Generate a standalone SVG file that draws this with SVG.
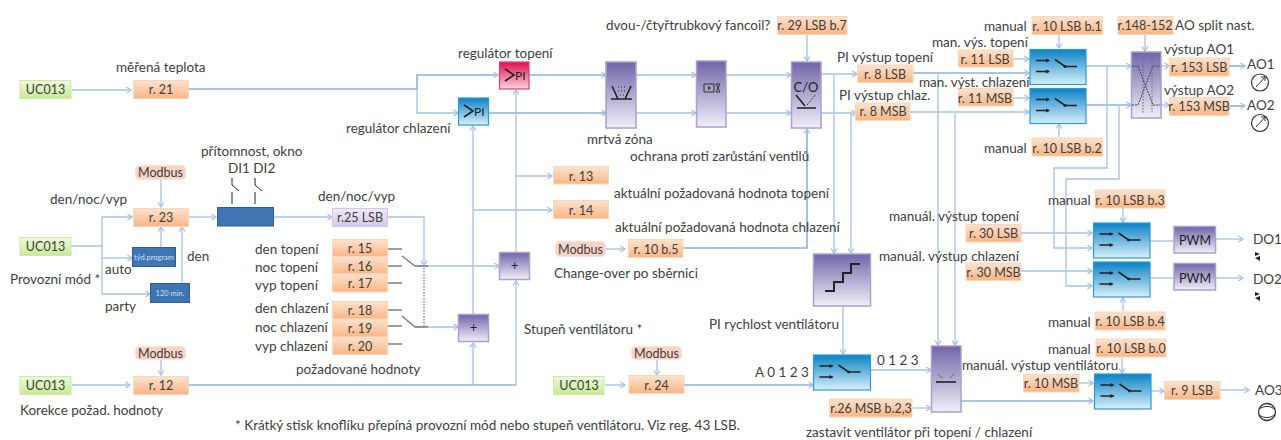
<svg xmlns="http://www.w3.org/2000/svg" xmlns:xlink="http://www.w3.org/1999/xlink" width="1281" height="440" viewBox="0 0 1281 440">
<style>
text{font-family:"Lato","Liberation Sans",sans-serif;font-size:13.5px;fill:#404040}
g>rect+text{font-size:12.5px}
.c{text-anchor:middle}
.o{fill:url(#gO);stroke:#fcd6b8;stroke-width:1}
.g{fill:url(#gG);stroke:#cfe8a5;stroke-width:1}
.m{fill:#f9d3c5;stroke:#fbe3da;stroke-width:1}
.p{fill:url(#gP);stroke:#a99fd0;stroke-width:1.5}
.b{fill:url(#gB);stroke:#2a9ad8;stroke-width:1.2}
.d{fill:#3f75b2;stroke:#2f5f98;stroke-width:1}
.w{fill:#cfe0f2;font-size:7.5px}
#conn path{fill:none;stroke:#a6c2e3;stroke-width:1.3}
#conn path.a{marker-end:url(#ah)}
#conn path.t{stroke:#8fb0da;stroke-width:1.6}
#conn path.s{stroke:#808080;stroke-width:1.5}
.k{fill:none;stroke:#222;stroke-width:1.6}
</style>
<defs>
<linearGradient id="gO" x1="0" y1="0" x2="0" y2="1"><stop offset="0" stop-color="#fde3cf"/><stop offset="1" stop-color="#fbb583"/></linearGradient>
<linearGradient id="gG" x1="0" y1="0" x2="0" y2="1"><stop offset="0" stop-color="#eef9db"/><stop offset="1" stop-color="#c8ea96"/></linearGradient>
<linearGradient id="gP" x1="0" y1="0" x2="0" y2="1"><stop offset="0" stop-color="#7264a9"/><stop offset="1" stop-color="#f1eff8"/></linearGradient>
<linearGradient id="gB" x1="0" y1="0" x2="0" y2="1"><stop offset="0" stop-color="#0b82c6"/><stop offset="1" stop-color="#d8eff9"/></linearGradient>
<linearGradient id="gR" x1="0" y1="0" x2="0" y2="1"><stop offset="0" stop-color="#e0104e"/><stop offset="1" stop-color="#fbd3df"/></linearGradient>
<linearGradient id="gL" x1="0" y1="0" x2="0" y2="1"><stop offset="0" stop-color="#efeaf7"/><stop offset="1" stop-color="#d5c8ea"/></linearGradient>
<marker id="ah" markerWidth="9" markerHeight="9" refX="6.5" refY="4" orient="auto" markerUnits="userSpaceOnUse"><path d="M2 1 L6.5 4 L2 7" fill="none" stroke="#a6c2e3" stroke-width="1.3"/></marker>
<g id="sw"><path d="M6 11H19M6 22H19" stroke="#222" stroke-width="1.6" fill="none"/><path d="M16 9L20 11L16 13ZM16 20L20 22L16 24Z" fill="#222"/><path d="M25 10L35 17H47" class="k"/><circle cx="35" cy="17" r="1.4" fill="#222"/></g>
</defs>
<rect width="1281" height="440" fill="#fff"/>

<g id="conn">
<path class="a" d="M72 90H131"/>
<path class="t" d="M188 89H417"/>
<path class="a t" d="M417 89V75H498"/>
<path class="a" d="M417 89V113H458"/>
<path class="a t" d="M529 75H606"/><path class="a" d="M636 75H696"/><path class="a" d="M726 75H791"/><path class="a" d="M821 74H857"/>
<path class="a t" d="M489 113H606"/><path class="a" d="M636 113H696"/><path class="a" d="M726 113H791"/><path class="a" d="M821 113H856"/>
<path class="a" d="M807 34V61"/>
<path class="a" d="M516 252V90"/><path class="a" d="M473 314V126"/>
<path class="t" d="M188 385H516"/>
<path class="a" d="M473 385V343"/><path class="a" d="M516 385V281"/>
<path class="a" d="M516 176H552"/><path class="a" d="M473 210H552"/>
<path class="a" d="M606 249H625"/>
<path class="a t" d="M683 248H807V129"/>
<path class="a" d="M834 75V253"/><path class="a" d="M851 113V253"/>
<path class="a" d="M843 306V354"/>
<path class="a" d="M605 385H625"/><path class="a" d="M657 360V375"/>
<path class="a t" d="M684 385H813"/>
<path class="a" d="M912 408H931"/><path class="a" d="M870 370H931"/>
<path class="a t" d="M961 401H1093"/>
<path class="a" d="M938 74V345"/><path class="a" d="M955 113V345"/>
<path class="a" d="M1059 35V48"/><path class="a" d="M1013 59H1029"/><path class="a t" d="M913 73H1029"/>
<path class="a" d="M1013 98H1029"/><path class="a" d="M910 112H1029"/><path class="a" d="M1059 137V124"/>
<path class="a" d="M1086 66H1131"/><path class="a t" d="M1086 105H1131"/>
<path class="a" d="M1145 35V51"/>
<path class="a" d="M1161 66H1169"/><path class="a" d="M1161 105H1169"/>
<path class="a t" d="M1229 66H1245"/><path class="a t" d="M1229 106H1245"/>
<path class="a" d="M1107 66V168H1054V248H1092"/>
<path class="a" d="M1119 105V179H1066V286H1092"/>
<path class="a" d="M1123 208V222"/><path class="a" d="M1123 311V298"/>
<path class="a" d="M1021 233H1092"/><path class="a" d="M1021 271H1092"/>
<path d="M1150 241H1174"/><path d="M1150 278H1174"/>
<path class="a" d="M1216 239H1243"/><path class="a" d="M1216 278H1243"/>
<path class="a" d="M1122 357V373"/><path class="a" d="M1079 383H1093"/>
<path class="a" d="M1151 391H1164"/><path class="a" d="M1220 390H1249"/>
<path class="a" d="M71 246H102V217H132"/><path d="M102 246V294"/>
<path class="a" d="M102 258H132"/><path class="a" d="M102 294H150"/>
<path class="a" d="M161 180V207"/><path class="a" d="M161 247V227"/><path class="a" d="M182 283V227"/>
<path class="a" d="M188 217H216"/><path class="a" d="M273 217H332"/>
<path class="a" d="M388 217H424V265"/>
<path d="M424 265V327" stroke-dasharray="1.5 1.5" style="stroke:#777"/>
<path class="a" d="M415 266H499"/>
<path class="a" d="M415 327H458"/>
<path class="s" d="M388 249H402M388 266H402M388 283H402M388 310H402M388 326H402M388 344H402"/>
<path class="s" d="M402 256L415 266H428M402 316L415 327H428"/>
<path class="a" d="M72 385H130"/><path class="a" d="M161 360V375"/>
</g>

<g id="uc1"><rect class="g" x="20" y="80.500" width="51" height="18"/><text class="c" x="45.500" y="94">UC013</text></g>
<g id="r21"><rect class="o" x="133.500" y="80.500" width="55" height="18"/><text class="c" x="161" y="94">r. 21</text></g>
<g id="mb1"><rect class="m" x="135.500" y="165.500" width="50" height="14" rx="4"/><text class="c" x="160.500" y="177">Modbus</text></g>
<g id="r23"><rect class="o" x="133.500" y="208.500" width="55" height="18"/><text class="c" x="161" y="222">r. 23</text></g>
<g id="prit"><rect class="d" x="217.500" y="207.500" width="56" height="18.500"/>
<path d="M232 178V185L239 191M255 178V185L262 191M232 192V204M255 192V204" fill="none" stroke="#222" stroke-width="1"/></g>
<g id="r25"><rect x="332.500" y="208.500" width="55" height="18" fill="url(#gL)" stroke="#d3c6e8"/><text class="c" x="360" y="222">r.25 LSB</text></g>
<g id="uc2"><rect class="g" x="20" y="237.500" width="51" height="18"/><text class="c" x="45.500" y="251">UC013</text></g>
<g id="tyd"><rect class="d" x="132.500" y="247.500" width="43" height="19"/><text class="w c" x="154" y="260">týd.program</text></g>
<g id="min"><rect class="d" x="150.500" y="283.500" width="39" height="19"/><text class="w c" x="170" y="296">120 min.</text></g>
<g id="r15"><rect class="o" x="332.500" y="239.500" width="55" height="17"/><text class="c" x="360" y="253">r. 15</text></g>
<g id="r16"><rect class="o" x="332.500" y="256.500" width="55" height="17.500"/><text class="c" x="360" y="271">r. 16</text></g>
<g id="r17"><rect class="o" x="332.500" y="274" width="55" height="18"/><text class="c" x="360" y="288">r. 17</text></g>
<g id="r18"><rect class="o" x="332.500" y="301.500" width="55" height="17.500"/><text class="c" x="360" y="315">r. 18</text></g>
<g id="r19"><rect class="o" x="332.500" y="319" width="55" height="18"/><text class="c" x="360" y="333">r. 19</text></g>
<g id="r20"><rect class="o" x="332.500" y="337" width="55" height="17.500"/><text class="c" x="360" y="351">r. 20</text></g>
<g id="mb2"><rect class="m" x="135.500" y="346.500" width="50" height="13" rx="4"/><text class="c" x="160.500" y="358">Modbus</text></g>
<g id="r12"><rect class="o" x="133.500" y="376.500" width="55" height="18"/><text class="c" x="161" y="390">r. 12</text></g>
<g id="uc4"><rect class="g" x="20" y="376.500" width="51" height="18"/><text class="c" x="45.500" y="390">UC013</text></g>

<g id="piT"><rect x="499.500" y="62" width="29.500" height="27" fill="url(#gR)" stroke="#e0406e" stroke-width="1.2"/><path d="M505 69L514 75L505 81" class="k"/><text x="515" y="80" style="font-size:12px;fill:#222">PI</text></g>
<g id="piC"><rect class="b" x="458.500" y="98" width="30" height="27"/><path d="M464 105L473 111L464 117" class="k"/><text x="474" y="116" style="font-size:12px;fill:#222">PI</text></g>
<g id="mz"><rect class="p" x="606" y="62" width="30" height="66"/><path d="M612 86L618 99H625L631 86M611 99H632" class="k"/><path d="M618 87h1M621 87h1M624 87h1M618 91h1M621 91h1M624 91h1M620 95h1M623 95h1" stroke="#222" fill="none"/></g>
<g id="och"><rect class="p" x="696.500" y="61" width="29.500" height="66"/><path d="M704 84H714V92H704ZM716 84H720L716 92H720Z" fill="none" stroke="#333"/><path d="M708 86L711 88L708 90Z" fill="#333"/></g>
<g id="co"><rect class="p" x="791.500" y="62" width="29.500" height="66"/><text class="c" x="806" y="92" style="font-size:13px;fill:#222">C/O</text><path d="M796 95L805 106M797 108H816" class="k"/><path d="M807 105L816 94" fill="none" stroke="#333" stroke-dasharray="2 1.500"/></g>
<g id="r29"><rect class="o" x="777.500" y="16.500" width="69.500" height="18"/><text class="c" x="812" y="30">r. 29 LSB b.7</text></g>
<g id="r8l"><rect class="o" x="857.500" y="65" width="55.500" height="17.500"/><text class="c" x="885" y="79">r. 8 LSB</text></g>
<g id="r8m"><rect class="o" x="855.500" y="103" width="54.500" height="17.500"/><text class="c" x="883" y="116">r. 8 MSB</text></g>
<g id="r13"><rect class="o" x="553.500" y="166.500" width="55" height="17.500"/><text class="c" x="581" y="181">r. 13</text></g>
<g id="r14"><rect class="o" x="553.500" y="200.500" width="55" height="18"/><text class="c" x="581" y="215">r. 14</text></g>
<g id="mb3"><rect class="m" x="555.500" y="241.500" width="50" height="15" rx="4"/><text class="c" x="580.500" y="254">Modbus</text></g>
<g id="r10b5"><rect class="o" x="628.500" y="239.500" width="54.500" height="18"/><text class="c" x="656" y="254">r. 10 b.5</text></g>
<g id="plus1"><rect class="p" x="499.500" y="252.500" width="30" height="27"/><text class="c" x="514.500" y="270" style="fill:#222">+</text></g>
<g id="plus2"><rect class="p" x="458.500" y="314.500" width="30" height="27"/><text class="c" x="473.500" y="332" style="fill:#222">+</text></g>
<g id="stair"><rect class="p" x="813.500" y="254" width="57" height="52"/><path d="M825 291H834V282H843V273H851V264H860" fill="none" stroke="#222" stroke-width="2"/></g>
<g id="swF"><rect class="b" x="813.500" y="355" width="57" height="35"/><use xlink:href="#sw" href="#sw" x="813.500" y="355"/></g>
<g id="uc3"><rect class="g" x="553.500" y="376.500" width="50.500" height="18"/><text class="c" x="579" y="390">UC013</text></g>
<g id="mb4"><rect class="m" x="631.500" y="346.500" width="50" height="13" rx="4"/><text class="c" x="656.500" y="358">Modbus</text></g>
<g id="r24"><rect class="o" x="629" y="375.500" width="55" height="18"/><text class="c" x="656.500" y="390">r. 24</text></g>
<g id="r26"><rect class="o" x="829.500" y="399" width="82.500" height="18"/><text class="c" x="871" y="413">r.26 MSB b.2,3</text></g>
<g id="stop"><rect class="p" x="931.500" y="346" width="29.500" height="66"/><path d="M936 382H956" stroke="#222" stroke-width="1.6" fill="none"/><path d="M937 374L943 378M955 374L949 378" fill="none" stroke="#777"/></g>

<g id="sw1"><rect class="b" x="1030" y="49.500" width="56" height="35"/><use xlink:href="#sw" href="#sw" x="1030" y="49.500"/></g>
<g id="sw2"><rect class="b" x="1030" y="88.500" width="56" height="35"/><use xlink:href="#sw" href="#sw" x="1030" y="88.500"/></g>
<g id="r10b1"><rect class="o" x="1032" y="16.500" width="70.500" height="18"/><text class="c" x="1067" y="31">r. 10 LSB b.1</text></g>
<g id="r11l"><rect class="o" x="958.500" y="50" width="54.500" height="17"/><text class="c" x="985" y="64">r. 11 LSB</text></g>
<g id="r11m"><rect class="o" x="958.500" y="88.500" width="54.500" height="17.500"/><text class="c" x="985" y="103">r. 11 MSB</text></g>
<g id="r10b2"><rect class="o" x="1032" y="138" width="70.500" height="18"/><text class="c" x="1067" y="153">r. 10 LSB b.2</text></g>
<g id="r148"><rect class="o" x="1118" y="16.500" width="55" height="18"/><text class="c" x="1145" y="30">r.148-152</text></g>
<g id="split"><rect class="p" x="1131.500" y="52" width="29.500" height="66"/><path d="M1132 66H1138L1153 105H1160M1132 105H1138L1153 66H1160" fill="none" stroke="#444" stroke-dasharray="2 1"/><path d="M1143 57V114M1152 57V114" fill="none" stroke="#666" stroke-dasharray="1.500 1.500"/></g>
<g id="r153l"><rect class="o" x="1169.500" y="58" width="59.500" height="18"/><text class="c" x="1199" y="72">r. 153 LSB</text></g>
<g id="r153m"><rect class="o" x="1169.500" y="97.500" width="59.500" height="18"/><text class="c" x="1199" y="111">r. 153 MSB</text></g>
<g id="ao1"><text x="1247" y="69">AO1</text><circle cx="1260" cy="82.500" r="8.500" fill="#fff" stroke="#333" stroke-width="1.2"/><path d="M1256 87L1265 77M1261 77H1265V81" fill="none" stroke="#333"/></g>
<g id="ao2"><text x="1247" y="110">AO2</text><circle cx="1260" cy="123" r="8.500" fill="#fff" stroke="#333" stroke-width="1.2"/><path d="M1256 127L1265 117M1261 117H1265V121" fill="none" stroke="#333"/></g>

<g id="r10b3"><rect class="o" x="1095" y="190" width="70" height="18"/><text class="c" x="1130" y="205">r. 10 LSB b.3</text></g>
<g id="sw3"><rect class="b" x="1093.500" y="223" width="56.500" height="35"/><use xlink:href="#sw" href="#sw" x="1093.500" y="223"/></g>
<g id="sw4"><rect class="b" x="1093.500" y="262" width="56.500" height="35"/><use xlink:href="#sw" href="#sw" x="1093.500" y="262"/></g>
<g id="r30l"><rect class="o" x="966" y="224.500" width="55" height="17.500"/><text class="c" x="993.500" y="238">r. 30 LSB</text></g>
<g id="r30m"><rect class="o" x="966" y="263" width="55" height="17.500"/><text class="c" x="993.500" y="277">r. 30 MSB</text></g>
<g id="pwm1"><rect class="p" x="1174" y="226.500" width="41.500" height="26.500"/><text class="c" x="1195" y="245" style="fill:#222">PWM</text></g>
<g id="pwm2"><rect class="p" x="1174" y="263.500" width="41.500" height="26.500"/><text class="c" x="1195" y="283" style="fill:#222">PWM</text></g>
<g id="do1"><text x="1253" y="244">DO1</text><path d="M1255 252L1260 254L1255 256ZM1255 258L1260 256V261Z" fill="#222"/></g>
<g id="do2"><text x="1253" y="284">DO2</text><path d="M1255 292L1260 294L1255 296ZM1255 298L1260 296V301Z" fill="#222"/></g>
<g id="r10b4"><rect class="o" x="1095" y="312" width="70" height="18"/><text class="c" x="1130" y="326">r. 10 LSB b.4</text></g>
<g id="r10b0"><rect class="o" x="1096" y="339" width="70" height="18"/><text class="c" x="1131" y="353">r. 10 LSB b.0</text></g>
<g id="sw5"><rect class="b" x="1094.500" y="374" width="56.500" height="35"/><use xlink:href="#sw" href="#sw" x="1094.500" y="374"/></g>
<g id="r10m"><rect class="o" x="1023.500" y="374.500" width="55.500" height="17.500"/><text class="c" x="1051" y="388">r. 10 MSB</text></g>
<g id="r9"><rect class="o" x="1164.500" y="381.500" width="55.500" height="18"/><text class="c" x="1192" y="395">r. 9 LSB</text></g>
<g id="ao3"><text x="1255" y="395">AO3</text><circle cx="1267" cy="412" r="8.500" fill="#fff" stroke="#333" stroke-width="1.3"/><path d="M1259 409C1265 405 1272 406 1275 410M1259 415C1265 419 1272 418 1275 414" fill="none" stroke="#333"/></g>

<g id="labels">
<text x="116" y="72">měřená teplota</text>
<text x="458" y="58">regulátor topení</text>
<text x="346" y="133">regulátor chlazení</text>
<text x="606" y="30">dvou-/čtyřtrubkový fancoil?</text>
<text x="837" y="62">PI výstup topení</text>
<text x="839" y="100">PI výstup chlaz.</text>
<text x="984" y="31">manual</text>
<text x="932" y="47">man. výs. topení</text>
<text x="919" y="87">man. výst. chlazení</text>
<text x="984" y="153">manual</text>
<text x="1175" y="30">AO split nast.</text>
<text x="1164" y="54">výstup AO1</text>
<text x="1164" y="95">výstup AO2</text>
<text x="587" y="144">mrtvá zóna</text>
<text x="630" y="161">ochrana proti zarůstání ventilů</text>
<text x="614" y="198">aktuální požadovaná hodnota topení</text>
<text x="615" y="232">aktuální požadovaná hodnota chlazení</text>
<text x="554" y="278">Change-over po sběrnici</text>
<text x="201" y="156">přítomnost, okno</text>
<text x="228" y="173">DI1 DI2</text>
<text x="50" y="204">den/noc/vyp</text>
<text x="318" y="201">den/noc/vyp</text>
<text x="187" y="261">den</text>
<text x="105" y="274">auto</text>
<text x="10" y="284">Provozní mód *</text>
<text x="105" y="311">party</text>
<text x="255" y="254">den topení</text>
<text x="255" y="272">noc topení</text>
<text x="255" y="290">vyp topení</text>
<text x="255" y="313">den chlazení</text>
<text x="255" y="332">noc chlazení</text>
<text x="255" y="351">vyp chlazení</text>
<text x="296" y="374">požadované hodnoty</text>
<text x="20" y="415">Korekce požad. hodnoty</text>
<text x="235" y="430">* Krátký stisk knoflíku přepíná provozní mód nebo stupeň ventilátoru. Viz reg. 43 LSB.</text>
<text x="524" y="334">Stupeň ventilátoru *</text>
<text x="709" y="329">PI rychlost ventilátoru</text>
<text x="755" y="377">A 0 1 2 3</text>
<text x="877" y="365">0 1 2 3</text>
<text x="806" y="437">zastavit ventilátor při topení / chlazení</text>
<text x="889" y="221">manuál. výstup topení</text>
<text x="879" y="261">manuál. výstup chlazení</text>
<text x="1048" y="205">manual</text>
<text x="1048" y="327">manual</text>
<text x="1048" y="354">manual</text>
<text x="962" y="370">manuál. výstup ventilátoru</text>
</g>
</svg>
